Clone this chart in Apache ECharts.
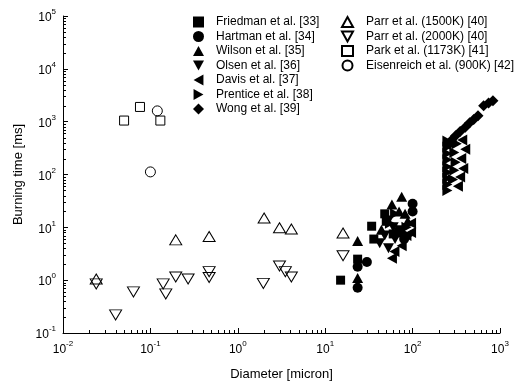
<!DOCTYPE html>
<html><head><meta charset="utf-8">
<script src="https://cdn.jsdelivr.net/npm/echarts@6/dist/echarts.min.js"></script>
<style>html,body{margin:0;padding:0;background:#fff}#c{width:518px;height:386px}</style>
</head><body><div id="c"></div>
<script>
// ---- data: [diameter (micron), burning time (ms)] ----
const friedman = [[15,1.0],[23.5,2.5],[34,10.5],[36,6.0],[48,18],[50,13],[60,7.5],[72,9]];
const hartman  = [[23.5,0.72],[23.5,1.8],[30,2.2],[100,28],[100,20],[70,8],[80,6]];
const wilson   = [[23.5,1.1],[23.5,5.5],[44,9],[58,27],[66,9],[75,38],[82,18],[70,20],[88,13]];
const olsen    = [[42,5],[53,4],[53,13.5],[63,6],[48,7],[60,10]];
const davis    = [[58,2.6],[62,3.5],[96,12],[96,8],[75,4.5],[85,7],[330,60],[350,90],[380,130],[360,200],[400,300],[370,450]];
const prentice = [[63,18],[85,10],[90,7],[55,12],[250,50],[250,65],[250,85],[250,110],[250,140],[250,190],[250,250],[250,330],[250,430],[290,80],[300,120],[310,170],[300,260],[320,380]];
const wong     = [[830,2500],[740,2250],[650,2000],[560,1300],[500,1100],[450,950],[400,780],[350,650],[310,540],[280,450],[265,380]];
const parr1500 = [[0.024,1.05],[0.195,5.8],[0.47,6.7],[2.0,15],[3.0,9.8],[4.1,9.3],[16,7.8]];
const parr2000 = [[0.024,0.85],[0.040,0.22],[0.064,0.6],[0.14,0.85],[0.15,0.55],[0.195,1.15],[0.27,1.05],[0.47,1.45],[0.47,1.12],[1.96,0.87],[3.0,1.85],[3.5,1.45],[4.1,1.15],[16,2.9]];
const park     = [[0.05,1050],[0.076,1900],[0.13,1050]];
const eisen    = [[0.12,1600],[0.1,112]];

const seriesNames = ['Friedman et al. [33]','Hartman et al. [34]','Wilson et al. [35]','Olsen et al. [36]','Davis et al. [37]','Prentice et al. [38]','Wong et al. [39]'];
const openNames = ['Parr et al. (1500K) [40]','Parr et al. (2000K) [40]','Park et al. (1173K) [41]','Eisenreich et al. (900K) [42]'];

// axis ticks
const xDecades = [0.01,0.1,1,10,100];
const yDecades = [0.1,1,10,100,1000,10000];
const minorMult = [2,3,4,5,6,7,8,9];

const FONT = '"Liberation Sans", Arial, sans-serif';
const UP = 'path://M5,0 L10,9 L0,9 Z';
const DOWN = 'path://M0,0 L10,0 L5,9 Z';
const LEFT = 'path://M9,0 L9,10 L0,5 Z';
const RIGHT = 'path://M0,0 L0,10 L9,5 Z';

function filled(name, data, symbol, size) {
  return {type:'scatter', name, data, symbol, symbolSize:size,
    itemStyle:{color:'#000', opacity:1}, emphasis:{disabled:true}, z:3};
}
function open(name, data, symbol, size) {
  return {type:'scatter', name, data, symbol, symbolSize:size,
    itemStyle:{color:'rgba(0,0,0,0)', borderColor:'#000', borderWidth:1, opacity:1}, emphasis:{disabled:true}, z:2};
}
const xMinor = xDecades.flatMap(d => minorMult.map(m => [d*m, 0.1]));
const yMinor = yDecades.flatMap(d => minorMult.map(m => [0.01, d*m]));

function labelFmt(v) {
  const e = Math.round(Math.log10(v));
  return '{b|10}{s|' + e + '}';
}
const rich = {
  b:{fontSize:12, fontFamily:FONT, color:'#000', lineHeight:16, verticalAlign:'bottom'},
  s:{fontSize:8, fontFamily:FONT, color:'#000', verticalAlign:'top'}
};

const chart = echarts.init(document.getElementById('c'), null, {renderer:'canvas'});
chart.setOption({
  animation:false,
  backgroundColor:'#fff',
  grid:{left:63, right:18, top:16, bottom:53},
  legend:[
    {data:seriesNames, orient:'vertical', left:188, top:11, itemWidth:11, itemHeight:11, itemGap:2.5, selectedMode:false,
     textStyle:{fontFamily:FONT, fontSize:12, color:'#000', padding:[0,0,0,7]}},
    {data:openNames, orient:'vertical', left:336, top:11, itemWidth:11, itemHeight:10, itemGap:2.5, selectedMode:false,
     textStyle:{fontFamily:FONT, fontSize:12, color:'#000', padding:[0,0,0,8]}}
  ],
  xAxis:{type:'log', logBase:10, min:0.01, max:1000,
    name:'Diameter [micron]', nameLocation:'middle', nameGap:35,
    nameTextStyle:{fontFamily:FONT, fontSize:13, color:'#000'},
    axisLine:{show:true, onZero:false, lineStyle:{color:'#000', width:1}},
    axisTick:{show:true, inside:true, length:5, lineStyle:{color:'#000'}},
    splitLine:{show:false},
    axisLabel:{formatter:labelFmt, rich, margin:7}},
  yAxis:{type:'log', logBase:10, min:0.1, max:100000,
    name:'Burning time [ms]', nameLocation:'middle', nameGap:37,
    nameTextStyle:{fontFamily:FONT, fontSize:13, color:'#000'},
    axisLine:{show:true, onZero:false, lineStyle:{color:'#000', width:1}},
    axisTick:{show:true, inside:true, length:5, lineStyle:{color:'#000'}},
    splitLine:{show:false},
    axisLabel:{formatter:labelFmt, rich, margin:7}},
  series:[
    open(openNames[0], parr1500, UP, [12,10]),
    open(openNames[1], parr2000, DOWN, [12,10]),
    open(openNames[2], park, 'rect', 9),
    open(openNames[3], eisen, 'circle', 10),
    filled(seriesNames[0], friedman, 'rect', 9),
    filled(seriesNames[1], hartman, 'circle', 10),
    filled(seriesNames[2], wilson, UP, [11,10]),
    filled(seriesNames[3], olsen, DOWN, [11,10]),
    filled(seriesNames[4], davis, LEFT, [10,11]),
    filled(seriesNames[5], prentice, RIGHT, [10,11]),
    filled(seriesNames[6], wong, 'diamond', 11),
    {type:'custom', name:'xminor', data:xMinor, silent:true, z:5, clip:false,
     renderItem:(p, api) => { const c = api.coord([api.value(0), api.value(1)]); const x = Math.round(c[0])+0.5, y = Math.round(c[1]);
       return {type:'line', shape:{x1:x, y1:y, x2:x, y2:y-3}, style:{stroke:'#000', lineWidth:1}}; }},
    {type:'custom', name:'yminor', data:yMinor, silent:true, z:5, clip:false,
     renderItem:(p, api) => { const c = api.coord([api.value(0), api.value(1)]); const x = Math.round(c[0]), y = Math.round(c[1])+0.5;
       return {type:'line', shape:{x1:x, y1:y, x2:x+3, y2:y}, style:{stroke:'#000', lineWidth:1}}; }}
  ]
});
</script></body></html>
